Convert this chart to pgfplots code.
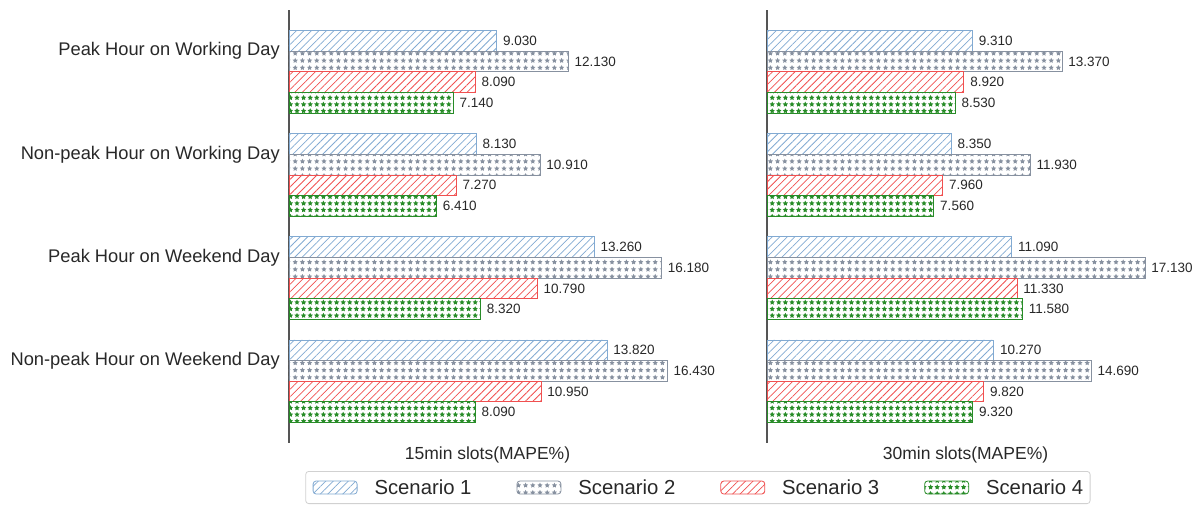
\documentclass[border=0pt]{standalone}
\usepackage{fontspec}
\setmainfont{Liberation Sans}
\usepackage{pgfplots}
\pgfplotsset{compat=1.18}
\usepackage{pgfplotstable}
\usetikzlibrary{patterns.meta}

\definecolor{c1}{RGB}{130,170,210}
\definecolor{c2}{RGB}{135,145,160}
\definecolor{c3}{RGB}{240,80,80}
\definecolor{c4}{RGB}{40,140,40}
\definecolor{txt}{RGB}{40,40,40}
\definecolor{spine}{RGB}{85,85,85}

% 15min slots
\pgfplotstableread{
g s1 s2 s3 s4
0 9.03 12.13 8.09 7.14
1 8.13 10.91 7.27 6.41
2 13.26 16.18 10.79 8.32
3 13.82 16.43 10.95 8.09
}\tabA
% 30min slots
\pgfplotstableread{
g s1 s2 s3 s4
0 9.31 13.37 8.92 8.53
1 8.35 11.93 7.96 7.56
2 11.09 17.13 11.33 11.58
3 10.27 14.69 9.82 9.32
}\tabB

\pgfplotsset{
  myaxis/.style={
    scale only axis, width=397bp, height=433bp,
    xmin=0, ymin=-0.6, ymax=3.6, y dir=reverse,
    axis x line*=bottom, x axis line style={draw=none},
    axis y line*=left, y axis line style={draw=spine, line width=1.5bp, -},
    xtick=\empty, major tick length=0pt, clip=false,
    point meta=x,
    nodes near coords={\pgfmathprintnumber[fixed, fixed zerofill, precision=3, assume math mode=true]{\pgfplotspointmeta}},
    every node near coord/.append style={anchor=west, inner sep=0pt, xshift=6bp, text=txt,
      font=\fontsize{13.5bp}{16bp}\selectfont},
    xlabel style={at={(axis description cs:0.5,0)}, anchor=center, yshift=-12bp,
      text=txt, font=\fontsize{17.5bp}{20bp}\selectfont},
    yticklabel style={font=\fontsize{18.3bp}{21bp}\selectfont, text=txt, inner sep=0pt, xshift=-9bp},
  },
  sA/.style={xbar, bar width=0.2, bar shift=0pt, draw=c1, line width=0.8bp,
    pattern={Lines[angle=45, distance=5.3bp, line width=0.75bp]}, pattern color=c1},
  sB/.style={xbar, bar width=0.2, bar shift=0pt, draw=c2, line width=0.8bp,
    pattern={Stars[distance=7.2bp, radius=2.7bp, points=5]}, pattern color=c2},
  sC/.style={xbar, bar width=0.2, bar shift=0pt, draw=c3, line width=0.8bp,
    pattern={Lines[angle=45, distance=5.3bp, line width=0.75bp]}, pattern color=c3},
  sD/.style={xbar, bar width=0.2, bar shift=0pt, draw=c4, line width=0.8bp,
    pattern={Stars[distance=6.6bp, radius=2.8bp, points=5]}, pattern color=c4},
}

\begin{document}
\begin{tikzpicture}
\useasboundingbox (-289bp,-64bp) rectangle (909bp,443bp);
\begin{axis}[myaxis, xmax=17.25,
  ytick={-0.2,0.8,1.8,2.8},
  yticklabels={Peak Hour on Working Day, Non-peak Hour on Working Day, Peak Hour on Weekend Day, Non-peak Hour on Weekend Day},
  xlabel={15min slots(MAPE\%)},
  legend columns=4,
  legend image code/.code={\draw[#1] (0bp,-6.5bp) rectangle (44bp,6.5bp);},
  legend style={at={(1.030,-0.1028)}, anchor=center, draw=black!18, line width=0.8bp,
    rounded corners=3bp, inner xsep=7bp, inner ysep=8bp, text=txt,
    font=\fontsize{20.3bp}{23bp}\selectfont,
    nodes={inner sep=0pt},
    /tikz/every odd column/.append style={column sep=17bp},
    /tikz/every even column/.append style={column sep=45bp}},
]
\addplot[sA] table[x=s1, y expr=\thisrow{g}-0.3] {\tabA};
\addplot[sB] table[x=s2, y expr=\thisrow{g}-0.1] {\tabA};
\addplot[sC] table[x=s3, y expr=\thisrow{g}+0.1] {\tabA};
\addplot[sD] table[x=s4, y expr=\thisrow{g}+0.3] {\tabA};
\legend{Scenario 1, Scenario 2, Scenario 3, Scenario 4}
\end{axis}
\begin{axis}[myaxis, xmax=17.99, at={(478bp,0bp)}, anchor=south west,
  ytick=\empty,
  xlabel={30min slots(MAPE\%)},
]
\addplot[sA] table[x=s1, y expr=\thisrow{g}-0.3] {\tabB};
\addplot[sB] table[x=s2, y expr=\thisrow{g}-0.1] {\tabB};
\addplot[sC] table[x=s3, y expr=\thisrow{g}+0.1] {\tabB};
\addplot[sD] table[x=s4, y expr=\thisrow{g}+0.3] {\tabB};
\end{axis}
\end{tikzpicture}
\end{document}
